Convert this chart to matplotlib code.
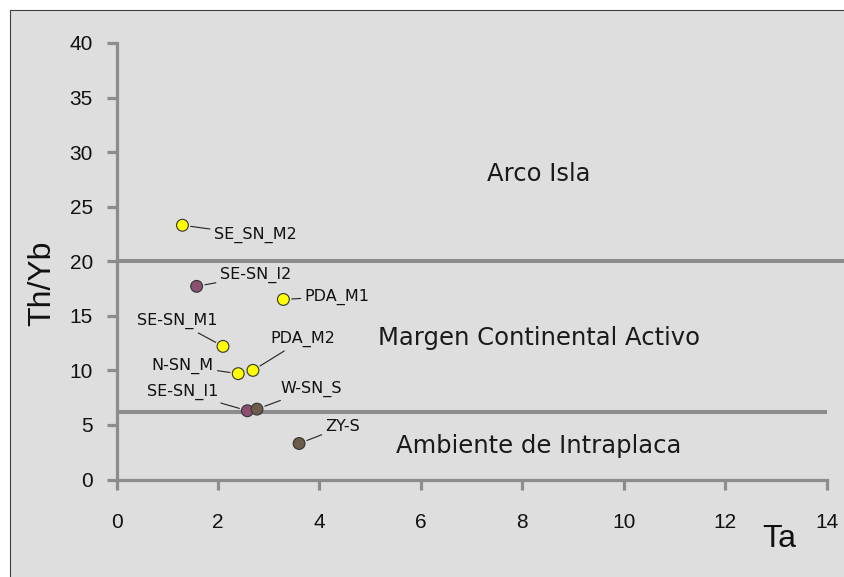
import matplotlib
matplotlib.use("Agg")
import matplotlib.pyplot as plt
from matplotlib.patches import Rectangle

# Sample data: Ta vs Th/Yb
samples = ["SE_SN_M2", "SE-SN_I2", "PDA_M1", "SE-SN_M1", "N-SN_M",
           "PDA_M2", "SE-SN_I1", "W-SN_S", "ZY-S"]
ta = [1.30, 1.58, 3.29, 2.10, 2.40, 2.69, 2.58, 2.77, 3.60]
th_yb = [23.3, 17.7, 16.5, 12.2, 9.7, 10.0, 6.3, 6.45, 3.3]
fill = ["#ffff00", "#8b5070", "#ffff00", "#ffff00", "#ffff00",
        "#ffff00", "#8b5070", "#6e5c4a", "#6e5c4a"]
# label offsets (pixels) from each point
label_dx = [73, 59, 54, -46, -56, 50, -65, 54, 44]
label_dy = [-10, 11, 3, 25, 8, 31, 19, 20, 17]

# field boundaries and names
boundaries = [20.0, 6.2]
fields = ["Arco Isla", "Margen Continental Activo", "Ambiente de Intraplaca"]
field_x = [8.33, 8.33, 8.33]
field_y = [28.0, 12.97, 3.07]

xticks = [0, 2, 4, 6, 8, 10, 12, 14]
yticks = [0, 5, 10, 15, 20, 25, 30, 35, 40]

W, H = 844, 577
fig = plt.figure(figsize=(W / 100, H / 100), dpi=100, facecolor="white")

# gray chart area with thin dark frame
panel = Rectangle((10 / W, -0.05), 1.1, 1 - 10 / H + 0.05,
                  transform=fig.transFigure, facecolor="#dedede",
                  edgecolor="#404040", linewidth=0.8, zorder=-10)
fig.patches.append(panel)

ax = fig.add_axes([116.5 / W, 1 - 479.5 / H, (826.6 - 116.5) / W, (479.5 - 43) / H])
ax.set_facecolor("none")
ax.set_xlim(0, 14)
ax.set_ylim(0, 40)

axis_grey = "#8c8c8c"
for side in ("top", "right"):
    ax.spines[side].set_visible(False)
for side in ("left", "bottom"):
    ax.spines[side].set_color(axis_grey)
    ax.spines[side].set_linewidth(2.3)

tick_font = "Liberation Sans"
ax.set_xticks(xticks)
ax.set_yticks(yticks)
ax.set_xticklabels([str(v) for v in xticks], fontsize=15, family=tick_font, color="#111111")
ax.set_yticklabels([str(v) for v in yticks], fontsize=15, family=tick_font, color="#111111")
ax.tick_params(axis="x", direction="out", length=7, width=2.3, color=axis_grey, pad=17)
ax.tick_params(axis="y", direction="out", length=7, width=2.3, color=axis_grey, pad=10)

# field boundaries
ax.plot([0, 14.4], [boundaries[0]] * 2, color=axis_grey, lw=2.9, clip_on=False, zorder=2,
        solid_capstyle="butt")
ax.plot([0, 14.0], [boundaries[1]] * 2, color=axis_grey, lw=2.9, clip_on=False, zorder=2,
        solid_capstyle="butt")

label_font = ["DejaVu Sans"]
for name, x, y in zip(fields, field_x, field_y):
    ax.text(x, y, name, ha="center", va="center", fontsize=17.5, family=label_font,
            color="#1a1a1a")

# samples
ax.scatter(ta, th_yb, s=8.5 ** 2, c=fill, edgecolors="#333333", linewidths=0.8,
           zorder=5, clip_on=False)
for name, x, y, dx, dy in zip(samples, ta, th_yb, label_dx, label_dy):
    ax.annotate(name, (x, y), xytext=(dx, dy), textcoords="offset pixels",
                ha="center", va="center", fontsize=11.5, family=label_font, color="#111111",
                arrowprops=dict(arrowstyle="-", color="#222222", lw=0.8,
                                shrinkA=1, shrinkB=6),
                zorder=4)

fig.text(42 / W, 1 - 283 / H, "Th/Yb", rotation=90, ha="center", va="center",
         fontsize=23, family=tick_font, color="#111111")
fig.text(779 / W, 1 - 539 / H, "Ta", ha="center", va="center",
         fontsize=23, family=tick_font, color="#111111")

fig.savefig("out.png", dpi=100, facecolor="white")
